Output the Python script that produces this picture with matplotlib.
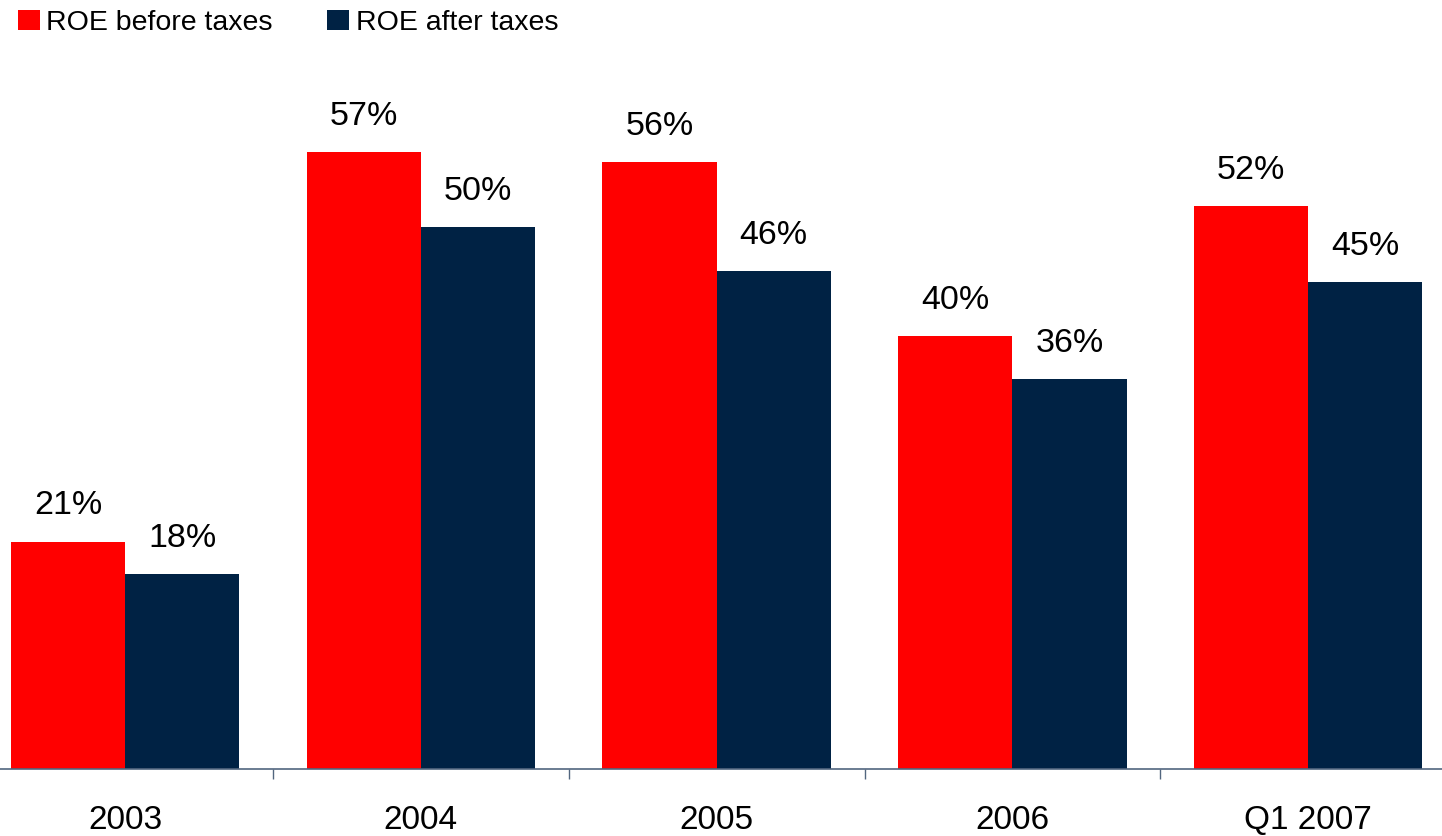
import matplotlib.pyplot as plt
from matplotlib.patches import Patch

categories = ["2003", "2004", "2005", "2006", "Q1 2007"]
roe_before = [21, 57, 56, 40, 52]
roe_after = [18, 50, 46, 36, 45]

RED = "#ff0000"
NAVY = "#002244"
AXIS = "#52667f"

plt.rcParams["font.family"] = ["Liberation Sans", "DejaVu Sans"]

fig = plt.figure(figsize=(14.42, 8.36), dpi=100)
ax = fig.add_axes([-22.7 / 1442, 67 / 836, 1478.7 / 1442, 769 / 836])

x = list(range(len(categories)))
width = 0.386
bars_before = ax.bar([i - width / 2 for i in x], roe_before, width, color=RED)
bars_after = ax.bar([i + width / 2 for i in x], roe_after, width, color=NAVY)

for bars, values in ((bars_before, roe_before), (bars_after, roe_after)):
    for bar, value in zip(bars, values):
        ax.annotate(f"{value}%", (bar.get_x() + bar.get_width() / 2, bar.get_height()),
                    xytext=(0, 19.5), textcoords="offset points",
                    ha="center", va="baseline", fontsize=24.5)

ax.set_xlim(-0.5, len(categories) - 0.5)
ax.set_ylim(0, 71.0)
ax.set_xticks(x)
ax.set_xticklabels(categories, fontsize=24)
ax.set_xticks([i + 0.5 for i in x[:-1]], minor=True)
ax.tick_params(axis="x", which="major", length=0, pad=26)
ax.tick_params(axis="x", which="minor", length=7.2, width=1, color=AXIS, direction="out")
ax.set_yticks([])
for side in ("top", "right", "left"):
    ax.spines[side].set_visible(False)
ax.spines["bottom"].set_color(AXIS)
ax.spines["bottom"].set_linewidth(1.2)

handles = [Patch(facecolor=RED, label="ROE before taxes"),
           Patch(facecolor=NAVY, label="ROE after taxes")]
fig.legend(handles=handles, loc="upper left", bbox_to_anchor=(17.7 / 1442, 1 - 10 / 836),
           ncol=2, frameon=False, fontsize=20.5, borderpad=0, borderaxespad=0,
           handlelength=0.77, handleheight=0.72, handletextpad=0.23, columnspacing=1.92)

fig.savefig("out.png", dpi=100)
